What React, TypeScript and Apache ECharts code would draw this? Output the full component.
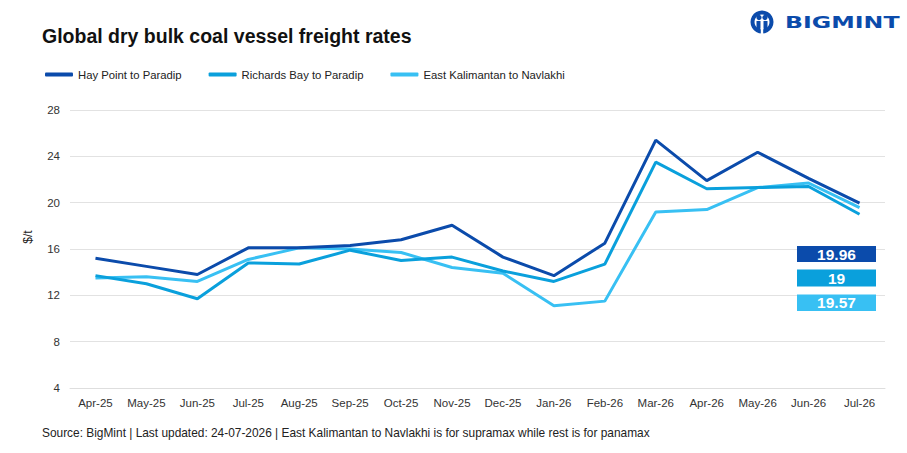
import React, { useEffect, useRef } from "react";
import * as echarts from "echarts";

const categories = ["Apr-25", "May-25", "Jun-25", "Jul-25", "Aug-25", "Sep-25", "Oct-25", "Nov-25", "Dec-25", "Jan-26", "Feb-26", "Mar-26", "Apr-26", "May-26", "Jun-26", "Jul-26"];
const hayPoint = [15.2, 14.5, 13.8, 16.1, 16.1, 16.3, 16.8, 18.05, 15.3, 13.7, 16.5, 25.4, 21.9, 24.35, 22.1, 19.96];
const richardsBay = [13.7, 13.0, 11.7, 14.8, 14.7, 15.9, 15.0, 15.3, 14.1, 13.2, 14.7, 23.5, 21.2, 21.3, 21.4, 19];
const eastKalimantan = [13.5, 13.6, 13.2, 15.1, 16.1, 16.0, 15.7, 14.4, 13.9, 11.1, 11.5, 19.2, 19.4, 21.3, 21.7, 19.57];
const seriesNames = ["Hay Point to Paradip", "Richards Bay to Paradip", "East Kalimantan to Navlakhi"];
const yTicks = { min: 4, max: 28, interval: 4 };

const C_DARK = "#0B4BAB";
const C_MID = "#0AA0DC";
const C_LIGHT = "#38C0F3";
const FONT = "'Liberation Sans', Arial, sans-serif";

export default function App() {
  const ref = useRef<HTMLDivElement>(null);
  useEffect(() => {
    if (!ref.current) return;
    document.body.style.margin = "0";
    const chart = echarts.init(ref.current, undefined, { renderer: "svg" });
    const last = (a: number[]) => String(a[a.length - 1]);
    const box = (y: number, h: number, color: string, txt: string) => ({
      type: "group",
      z: 100,
      children: [
        { type: "rect", z: 100, shape: { x: 797, y, width: 79, height: h }, style: { fill: color } },
        {
          type: "text",
          z: 101,
          x: 836.5,
          y: y + h / 2,
          style: { text: txt, fill: "#fff", font: `bold 15.5px ${FONT}`, align: "center", verticalAlign: "middle" },
        },
      ],
    });
    chart.setOption({
      animation: false,
      backgroundColor: "#fff",
      textStyle: { fontFamily: FONT },
      grid: { left: 70, right: 22, top: 110, bottom: 65 },
      legend: {
        left: 40,
        top: 64,
        itemWidth: 28,
        itemHeight: 4,
        itemGap: 27,
        icon: "roundRect",
        textStyle: { fontSize: 11.3, color: "#222", fontFamily: FONT },
        data: seriesNames,
      },
      xAxis: {
        type: "category",
        data: categories,
        boundaryGap: true,
        axisLine: { lineStyle: { color: "#dedede" } },
        axisTick: { show: false },
        axisLabel: { fontSize: 11.5, color: "#333", margin: 9 },
      },
      yAxis: {
        type: "value",
        min: yTicks.min,
        max: yTicks.max,
        interval: yTicks.interval,
        axisLine: { show: false },
        axisTick: { show: false },
        axisLabel: { fontSize: 11.5, color: "#333", margin: 10 },
        splitLine: { lineStyle: { color: "#e2e2e2" } },
      },
      series: [
        { name: seriesNames[0], type: "line", data: hayPoint, color: C_DARK, symbol: "none", lineStyle: { width: 3 }, z: 4 },
        { name: seriesNames[1], type: "line", data: richardsBay, color: C_MID, symbol: "none", lineStyle: { width: 3 }, z: 3 },
        { name: seriesNames[2], type: "line", data: eastKalimantan, color: C_LIGHT, symbol: "none", lineStyle: { width: 3 }, z: 2 },
      ],
      graphic: [
        {
          type: "text",
          x: 42,
          y: 36,
          style: { text: "Global dry bulk coal vessel freight rates", fill: "#111", font: `bold 19.5px ${FONT}`, verticalAlign: "middle" },
        },
        {
          type: "text",
          x: 28,
          y: 237,
          rotation: Math.PI / 2,
          style: { text: "$/t", fill: "#222", font: `12px ${FONT}`, align: "center", verticalAlign: "middle" },
        },
        {
          type: "text",
          x: 42,
          y: 433,
          style: {
            text: "Source: BigMint | Last updated: 24-07-2026 | East Kalimantan to Navlakhi is for supramax while rest is for panamax",
            fill: "#222",
            font: `11.9px ${FONT}`,
            verticalAlign: "middle",
          },
        },
        box(246, 16, C_DARK, last(hayPoint)),
        box(269.5, 17, C_MID, last(richardsBay)),
        box(294.5, 16.5, C_LIGHT, last(eastKalimantan)),
        {
          type: "group",
          children: [
            { type: "ring", shape: { cx: 762, cy: 22, r: 11.5, r0: 7.5 }, style: { fill: C_DARK } },
            { type: "circle", shape: { cx: 759, cy: 17.5, r: 2.6 }, style: { fill: C_DARK } },
            { type: "circle", shape: { cx: 765, cy: 17.5, r: 2.6 }, style: { fill: C_DARK } },
            { type: "rect", shape: { x: 756.5, y: 21, width: 4, height: 9 }, style: { fill: C_DARK } },
            { type: "rect", shape: { x: 763.5, y: 21, width: 4, height: 9 }, style: { fill: C_DARK } },
            { type: "rect", shape: { x: 760.8, y: 28, width: 2.4, height: 7 }, style: { fill: "#fff" } },
          ],
        },
        {
          type: "text",
          x: 785,
          y: 22,
          scaleX: 1.48,
          style: { text: "BIGMINT", fill: C_DARK, font: `bold 16px 'DejaVu Sans', sans-serif`, verticalAlign: "middle" },
        },
      ],
    });
    return () => chart.dispose();
  }, []);
  return <div ref={ref} style={{ width: 907, height: 453 }} />;
}
